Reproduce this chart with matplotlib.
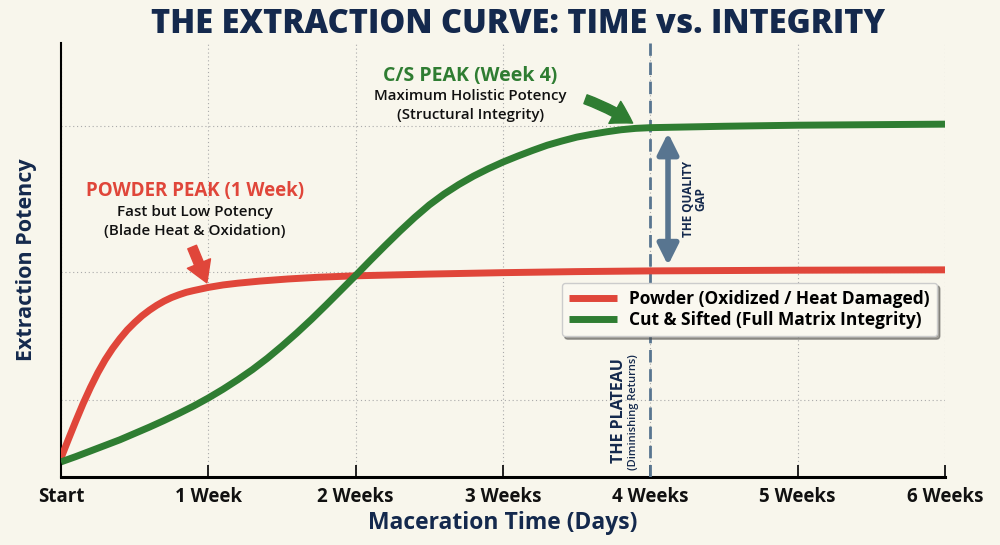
import matplotlib
matplotlib.use('Agg')
import matplotlib.pyplot as plt

# data (x in weeks, y in potency units)
red_x = [0, 0.05, 0.1, 0.15, 0.2, 0.25, 0.3, 0.35, 0.4, 0.45, 0.5, 0.55, 0.6, 0.65, 0.7, 0.75, 0.8,
         0.85, 0.9, 1.0, 1.1, 1.2, 1.35, 1.54, 1.75, 2.0, 2.5, 3.0, 3.5, 4.0, 5.0, 6.0]
red_y = [5.4, 10.7, 15.9, 20.9, 25.5, 29.7, 33.4, 36.6, 39.4, 41.9, 44.0, 45.9, 47.5, 48.9, 50.1, 51.1,
         51.9, 52.6, 53.1, 54.0, 54.7, 55.2, 55.8, 56.4, 56.9, 57.3, 57.8, 58.2, 58.5, 58.7, 58.9, 59.0]

green_x = [0, 0.1, 0.2, 0.3, 0.4, 0.5, 0.6, 0.7, 0.8, 0.9, 1.0, 1.1, 1.2, 1.3, 1.4, 1.5, 1.6, 1.7,
           1.8, 1.9, 2.0, 2.1, 2.2, 2.3, 2.4, 2.5, 2.6, 2.7, 2.8, 2.9, 3.0, 3.1, 3.2, 3.3, 3.4, 3.5,
           3.6, 3.7, 3.8, 3.9, 4.0, 4.5, 5.0, 6.0]
green_y = [4.3, 5.8, 7.4, 9.0, 10.6, 12.4, 14.2, 16.1, 18.1, 20.2, 22.5, 25.0, 27.7, 30.6, 33.8, 37.3,
           41.0, 44.9, 49.0, 53.2, 57.4, 61.7, 65.9, 70.0, 73.9, 77.5, 80.6, 83.3, 85.7, 87.8, 89.7,
           91.4, 93.0, 94.5, 95.7, 96.8, 97.6, 98.3, 98.9, 99.3, 99.5, 99.9, 100.2, 100.5]

week_ticks = [0, 1, 2, 3, 4, 5, 6]
week_labels = ['Start', '1 Week', '2 Weeks', '3 Weeks', '4 Weeks', '5 Weeks', '6 Weeks']
y_grid = [22, 58.4, 100]

font = ['Open Sans', 'DejaVu Sans']
bg = '#f8f6ec'
navy = '#14294d'
red = '#e0463a'
green = '#2f7d32'
slate = '#587590'

fig = plt.figure(figsize=(10, 5.45), dpi=100, facecolor=bg)
ax = fig.add_axes([0.061, 0.1248, 0.884, 0.7962])
ax.set_facecolor(bg)

ax.plot(red_x, red_y, color=red, lw=5, solid_capstyle='butt', solid_joinstyle='round',
        label='Powder (Oxidized / Heat Damaged)', zorder=4)
ax.plot(green_x, green_y, color=green, lw=5, solid_capstyle='butt', solid_joinstyle='round',
        label='Cut & Sifted (Full Matrix Integrity)', zorder=4)

ax.set_xlim(0, 6)
ax.set_ylim(0, 123.6)
ax.set_xticks(week_ticks)
ax.set_xticklabels(week_labels, family=font, fontsize=13.5, fontweight='bold')
ax.set_yticks(y_grid)
ax.set_yticklabels([])
ax.tick_params(axis='x', direction='in', length=9, width=1.3, pad=7, colors='#111111')
ax.tick_params(axis='y', length=0)
ax.grid(True, ls=(0, (1, 2.5)), color='#aaaaaa', lw=0.8)

for s in ['top', 'right']:
    ax.spines[s].set_visible(False)
ax.spines['left'].set_linewidth(1.5)
ax.spines['bottom'].set_linewidth(2.2)

ax.set_xlabel('Maceration Time (Days)', family=font, fontsize=16.5, fontweight='bold', color=navy, labelpad=3)
ax.set_ylabel('Extraction Potency', family=font, fontsize=15.5, fontweight='bold', color=navy, labelpad=14)
fig.text(0.518, 0.956, 'THE EXTRACTION CURVE: TIME vs. INTEGRITY', ha='center', va='center',
         family=font, fontsize=23.5, fontweight=800, color=navy)

# plateau line
ax.axvline(4, color=slate, lw=2, ls=(0, (4.5, 2.4)), zorder=3)
ax.text(3.785, 4.0, 'THE PLATEAU', rotation=90, ha='center', va='bottom', family=font,
        fontsize=11.5, fontweight='bold', color=navy)
ax.text(3.885, 2.0, '(Diminishing Returns)', rotation=90, ha='center', va='bottom', family=font,
        fontsize=8, fontweight='semibold', color=navy)

# quality gap
ax.annotate('', xy=(4.12, 60.3), xytext=(4.12, 98.0),
            arrowprops=dict(arrowstyle='<|-|>,head_width=0.45,head_length=0.9', color=slate, lw=4,
                            mutation_scale=14, shrinkA=0, shrinkB=0), zorder=5)
ax.text(4.30, 79.2, 'THE QUALITY\nGAP', rotation=90, ha='center', va='center', family=font,
        fontsize=8.5, fontweight='bold', color=navy, linespacing=0.95)

# powder peak annotation
ax.text(0.91, 81.5, 'POWDER PEAK (1 Week)', ha='center', va='center', family=font,
        fontsize=13.5, fontweight='bold', color=red)
ax.text(0.91, 75.6, 'Fast but Low Potency', ha='center', va='center', family=font,
        fontsize=11, fontweight='semibold', color='#111111')
ax.text(0.91, 70.0, '(Blade Heat & Oxidation)', ha='center', va='center', family=font,
        fontsize=11, fontweight='semibold', color='#111111')
ax.annotate('', xy=(0.99, 55.3), xytext=(0.89, 65.5),
            arrowprops=dict(arrowstyle='simple,tail_width=0.45,head_width=1.2,head_length=1.0',
                            color=red, mutation_scale=15, shrinkA=0, shrinkB=0), zorder=5)

# C/S peak annotation
ax.text(2.78, 114.3, 'C/S PEAK (Week 4)', ha='center', va='center', family=font,
        fontsize=14, fontweight='bold', color=green)
ax.text(2.78, 108.5, 'Maximum Holistic Potency', ha='center', va='center', family=font,
        fontsize=10.8, fontweight='semibold', color='#111111')
ax.text(2.78, 103.2, '(Structural Integrity)', ha='center', va='center', family=font,
        fontsize=10.8, fontweight='semibold', color='#111111')
ax.annotate('', xy=(3.88, 100.8), xytext=(3.56, 107.6),
            arrowprops=dict(arrowstyle='simple,tail_width=0.45,head_width=1.2,head_length=1.0',
                            color=green, mutation_scale=15, shrinkA=0, shrinkB=0,
                            connectionstyle='arc3,rad=-0.06'), zorder=5)

leg = ax.legend(loc='upper right', bbox_to_anchor=(0.991, 0.447), borderaxespad=0, frameon=True,
                fancybox=True, shadow=True, handlelength=2.8, handletextpad=0.7, borderpad=0.4,
                labelspacing=0.2, prop=dict(family=font, size=12.5, weight='bold'))
leg.get_frame().set_facecolor('#faf8f0')
leg.get_frame().set_edgecolor('#cccccc')
for h in leg.get_lines():
    h.set_linewidth(5)
leg.set_zorder(6)

fig.savefig('out.png', dpi=100, facecolor=bg)
